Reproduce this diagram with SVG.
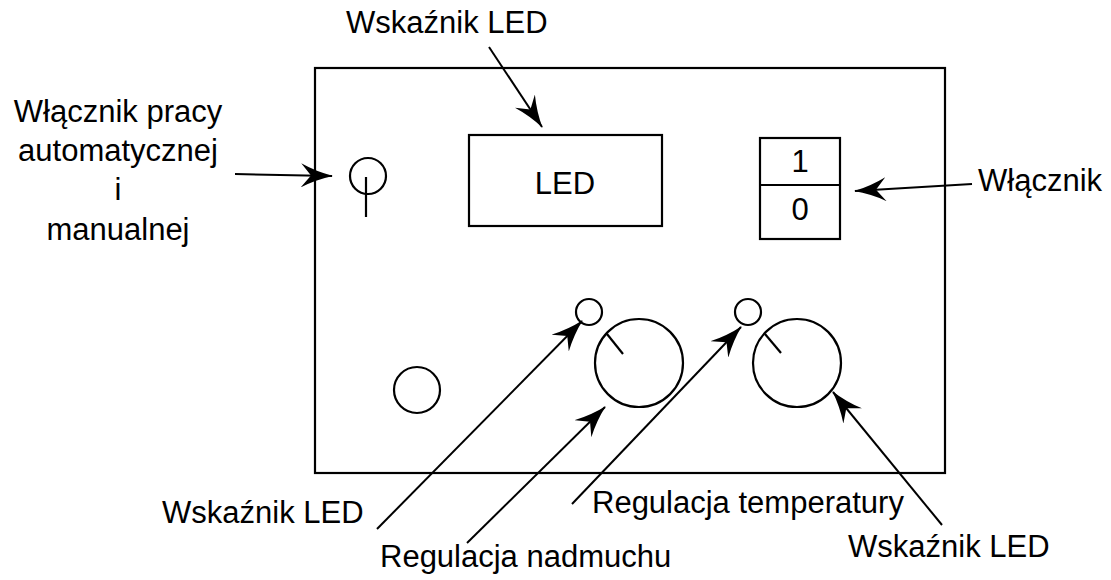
<svg xmlns="http://www.w3.org/2000/svg" width="1111" height="580" viewBox="0 0 1111 580">
<style>
.s{fill:none;stroke:#000;stroke-width:2.2}
.c{fill:none;stroke:#000;stroke-width:2.2}
.t{font-family:"Liberation Sans",Arial,sans-serif;font-size:31px;fill:#000}
.a{fill:none;stroke:#000;stroke-width:2;marker-end:url(#ah)}
</style>
<defs>
<marker id="ah" markerUnits="userSpaceOnUse" viewBox="0 0 32 24" refX="31" refY="12" markerWidth="32" markerHeight="24" orient="auto">
<path d="M0,0 Q15,8 32,12 Q15,16 0,24 L10,12 Z" fill="#000"/>
</marker>
</defs>
<rect width="1111" height="580" fill="#fff"/>
<g id="panel"><rect class="s" x="315" y="68" width="630" height="405" stroke-width="2.5"/></g>
<g id="led-display"><rect class="s" x="469" y="135" width="193" height="91"/><text class="t" x="565" y="194" text-anchor="middle" font-size="37">LED</text></g>
<g id="power-switch"><rect class="s" x="760" y="138" width="80" height="101"/><line class="s" x1="760" y1="185" x2="840" y2="185"/><text class="t" x="800" y="172" text-anchor="middle" font-size="28">1</text><text class="t" x="800" y="220" text-anchor="middle" font-size="28">0</text></g>
<g id="mode-switch"><circle class="c" cx="368" cy="176" r="18"/><line class="s" x1="366" y1="177" x2="366" y2="217"/></g>
<g id="lone-circle"><circle class="c" cx="417" cy="390" r="23"/></g>
<g id="led1"><circle class="c" cx="589" cy="312" r="13"/></g>
<g id="knob1"><circle class="c" cx="639" cy="363" r="44"/><line class="s" x1="607" y1="334" x2="623" y2="354"/></g>
<g id="led2"><circle class="c" cx="748" cy="312" r="13"/></g>
<g id="knob2"><circle class="c" cx="797" cy="363" r="44"/><line class="s" x1="765" y1="334" x2="781" y2="353"/></g>
<g id="labels">
<text class="t" x="346" y="33">Wskaźnik LED</text>
<text class="t" x="118" y="122" text-anchor="middle">Włącznik pracy</text>
<text class="t" x="118" y="161" text-anchor="middle">automatycznej</text>
<text class="t" x="118" y="200" text-anchor="middle">i</text>
<text class="t" x="118" y="240" text-anchor="middle">manualnej</text>
<text class="t" x="978" y="191">Włącznik</text>
<text class="t" x="162" y="523">Wskaźnik LED</text>
<text class="t" x="380" y="567">Regulacja nadmuchu</text>
<text class="t" x="592" y="513">Regulacja temperatury</text>
<text class="t" x="848" y="557">Wskaźnik LED</text>
</g>
<g id="connectors">
<line class="a" x1="489" y1="47" x2="542" y2="127"/>
<line class="a" x1="235" y1="174" x2="332" y2="176"/>
<line class="a" x1="972" y1="184" x2="855" y2="191"/>
<line class="a" x1="377" y1="529" x2="582" y2="321"/>
<line class="a" x1="467" y1="543" x2="605" y2="407"/>
<line class="a" x1="572" y1="504" x2="741" y2="327"/>
<line class="a" x1="942" y1="525" x2="833" y2="392"/>
</g>
</svg>
